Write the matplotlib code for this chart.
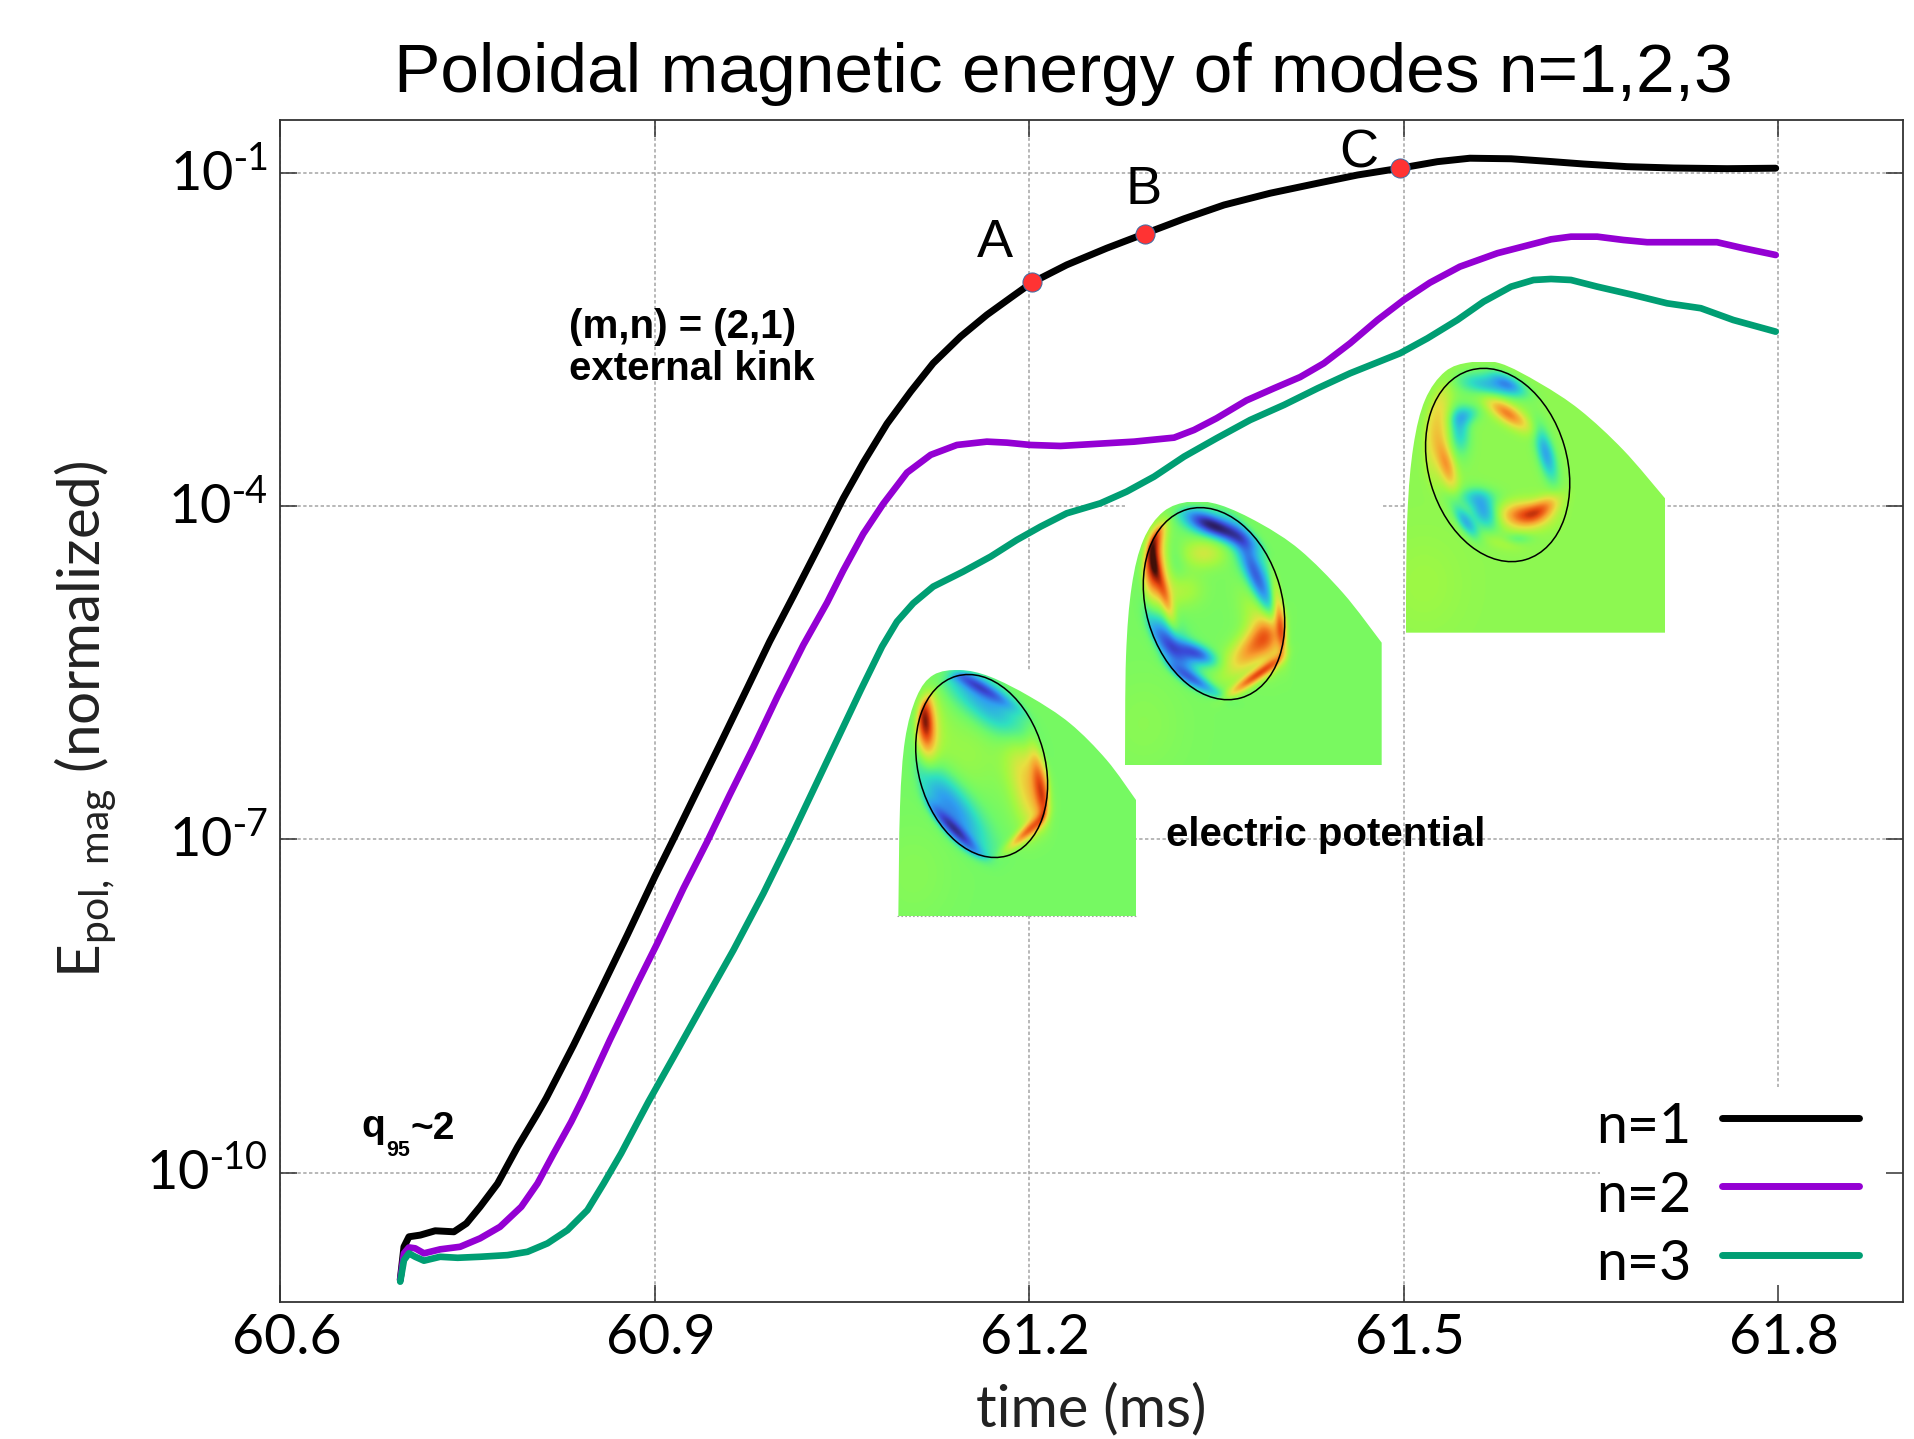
import numpy as np
import matplotlib
matplotlib.use("Agg")
import matplotlib.pyplot as plt
from matplotlib.colors import LinearSegmentedColormap
from matplotlib.lines import Line2D
from matplotlib.patches import Ellipse, PathPatch, Rectangle
from matplotlib.path import Path
from matplotlib.transforms import ScaledTranslation

plt.rcParams["font.family"] = ["Lato", "DejaVu Sans"]
plt.rcParams["mathtext.default"] = "regular"

W, H = 1915, 1439

# -------------------------------
# 1. Curves (time in ms, log10 of energy)
# -------------------------------
t1 = [60.696, 60.699, 60.703, 60.712, 60.724, 60.739, 60.749, 60.760, 60.774, 60.790, 60.806,
      60.813, 60.835, 60.856, 60.878, 60.900, 60.916, 60.931, 60.952, 60.974, 60.992, 61.011,
      61.032, 61.051, 61.067, 61.086, 61.105, 61.123, 61.145, 61.166, 61.187, 61.202, 61.230,
      61.262, 61.297, 61.324, 61.356, 61.393, 61.431, 61.463, 61.497, 61.527, 61.553, 61.586,
      61.618, 61.644, 61.679, 61.716, 61.759, 61.798]
log1 = [-10.967, -10.668, -10.578, -10.563, -10.524, -10.533, -10.458, -10.308, -10.099, -9.769, -9.468,
        -9.33, -8.85, -8.37, -7.86, -7.337, -6.975, -6.63, -6.15, -5.64, -5.22, -4.81,
        -4.35, -3.93, -3.61, -3.26, -2.97, -2.715, -2.475, -2.28, -2.11, -1.99, -1.83,
        -1.68, -1.53, -1.415, -1.291, -1.185, -1.095, -1.021, -0.96, -0.901, -0.87, -0.875,
        -0.9, -0.922, -0.946, -0.958, -0.964, -0.96]

t2 = [60.696, 60.699, 60.703, 60.708, 60.715, 60.728, 60.744, 60.760, 60.776, 60.793, 60.806, 60.819,
      60.833, 60.843, 60.864, 60.886, 60.902, 60.923, 60.942, 60.960, 60.979, 60.998, 61.019, 61.038,
      61.051, 61.067, 61.083, 61.102, 61.121, 61.142, 61.166, 61.182, 61.201, 61.225, 61.252, 61.284,
      61.316, 61.332, 61.350, 61.374, 61.396, 61.417, 61.436, 61.457, 61.479, 61.500, 61.521, 61.545,
      61.575, 61.618, 61.634, 61.655, 61.676, 61.695, 61.722, 61.751, 61.772, 61.798]
log2 = [-10.967, -10.727, -10.674, -10.682, -10.727, -10.691, -10.668, -10.592, -10.488, -10.308, -10.098, -9.827,
        -9.543, -9.317, -8.806, -8.296, -7.936, -7.44, -7.02, -6.60, -6.17, -5.72, -5.25, -4.87,
        -4.58, -4.25, -3.98, -3.70, -3.54, -3.451, -3.421, -3.43, -3.451, -3.46, -3.442, -3.421,
        -3.385, -3.316, -3.211, -3.05, -2.941, -2.84, -2.716, -2.536, -2.326, -2.146, -1.99, -1.846,
        -1.725, -1.6, -1.576, -1.576, -1.606, -1.626, -1.626, -1.626, -1.68, -1.741]

t3 = [60.696, 60.699, 60.703, 60.708, 60.715, 60.728, 60.742, 60.760, 60.782, 60.798, 60.814, 60.830,
      60.846, 60.859, 60.873, 60.886, 60.895, 60.915, 60.939, 60.963, 60.987, 61.008, 61.027, 61.046,
      61.065, 61.082, 61.094, 61.107, 61.123, 61.147, 61.169, 61.190, 61.209, 61.230, 61.257, 61.278,
      61.300, 61.324, 61.350, 61.377, 61.404, 61.431, 61.457, 61.497, 61.519, 61.543, 61.564, 61.586,
      61.604, 61.618, 61.634, 61.655, 61.684, 61.711, 61.738, 61.764, 61.798]
log3 = [-10.982, -10.788, -10.727, -10.758, -10.793, -10.758, -10.767, -10.758, -10.743, -10.713, -10.637, -10.518,
        -10.338, -10.098, -9.827, -9.55, -9.36, -8.96, -8.476, -7.997, -7.486, -7.006, -6.556, -6.106,
        -5.656, -5.266, -5.041, -4.876, -4.726, -4.591, -4.456, -4.306, -4.186, -4.066, -3.976, -3.871,
        -3.736, -3.556, -3.391, -3.226, -3.091, -2.941, -2.806, -2.626, -2.491, -2.326, -2.161, -2.026,
        -1.966, -1.957, -1.966, -2.026, -2.101, -2.176, -2.22, -2.326, -2.431]

mark_t = [61.202, 61.2925, 61.497]
mark_log = [-1.986, -1.556, -0.96]
mark_names = ["A", "B", "C"]

x_ticks = [60.6, 60.9, 61.2, 61.5, 61.8]
x_labels = ["60.6", "60.9", "61.2", "61.5", "61.8"]
y_ticks = [1e-1, 1e-4, 1e-7, 1e-10]
y_labels = [r"$10^{\text{-}1}$", r"$10^{\text{-}4}$", r"$10^{\text{-}7}$", r"$10^{\text{-}10}$"]

# -------------------------------
# 2. Mode structure insets (crop pixel coordinates, 3x)
# -------------------------------
# blobs: cx, cy, long sigma, short sigma, angle, amplitude
blobs_a = [(135, 240, 70, 20, 85, 0.8), (150, 250, 100, 35, 90, 0.15), (300, 140, 85, 14, 30, -0.4),
           (320, 185, 130, 42, 42, -0.42), (225, 570, 75, 14, 45, -0.5), (210, 500, 120, 42, 55, -0.5),
           (485, 450, 90, 16, 80, 0.5), (440, 575, 55, 12, -42, 0.55), (455, 450, 125, 40, 75, 0.42),
           (250, 340, 90, 90, 0, 0.1)]
blobs_b = [(125, 220, 70, 20, 88, 0.75), (165, 320, 70, 13, 75, 0.4), (140, 130, 40, 18, -75, 0.4),
           (150, 250, 120, 30, 85, 0.25), (335, 120, 70, 20, 25, -0.65), (280, 100, 50, 25, 20, -0.4),
           (440, 270, 80, 18, 68, -0.4), (430, 230, 130, 30, 65, -0.3), (180, 470, 75, 22, 50, -0.4),
           (170, 440, 90, 35, 65, -0.35), (260, 490, 40, 18, 25, -0.6), (250, 570, 70, 14, 30, -0.45),
           (430, 470, 75, 32, -45, 0.55), (440, 555, 70, 12, -35, 0.7), (510, 400, 90, 12, 82, 0.55),
           (470, 430, 100, 35, 70, 0.3), (280, 190, 45, 30, 0, 0.25), (220, 300, 40, 35, 0, 0.15),
           (190, 210, 50, 22, 80, -0.12)]
blobs_c = [(290, 105, 65, 24, 10, -0.4), (350, 100, 40, 17, 30, -0.35), (350, 190, 52, 19, 35, 0.55),
           (205, 240, 50, 22, 85, -0.36), (225, 195, 30, 20, -20, -0.28), (465, 310, 60, 18, 75, -0.48),
           (170, 350, 50, 17, 75, 0.42), (140, 230, 100, 30, 95, 0.33), (400, 495, 50, 27, 0, 0.62),
           (460, 470, 40, 20, -30, 0.4), (280, 485, 40, 26, 60, -0.48), (225, 515, 40, 15, 55, -0.42),
           (250, 440, 50, 20, 0, -0.2), (330, 575, 40, 15, 15, 0.1), (380, 565, 30, 12, 0, -0.15)]

outline_a_x = [55, 60, 75, 110, 160, 240, 330, 450, 570, 680, 768, 768]
outline_a_y = [828, 500, 300, 170, 105, 90, 110, 170, 250, 360, 480, 828]
outline_b_x = [45, 48, 65, 100, 160, 240, 330, 450, 570, 700, 815, 815]
outline_b_y = [825, 500, 290, 150, 65, 35, 45, 100, 180, 310, 458, 825]
outline_c_x = [47, 52, 70, 105, 165, 240, 330, 450, 570, 700, 825, 825]
outline_c_y = [848, 500, 290, 150, 65, 37, 40, 100, 180, 300, 445, 848]

mode_colors = [(0.0, "#2a1650"), (0.14, "#3a4ad8"), (0.27, "#2f9ff0"), (0.38, "#2fe0c0"), (0.48, "#70fa68"),
               (0.56, "#a4f840"), (0.66, "#e8e040"), (0.76, "#f8a030"), (0.88, "#e84810"), (0.95, "#a02008"),
               (1.0, "#401008")]
mode_cmap = LinearSegmentedColormap.from_list("mode", mode_colors)


def outline_path(xs, ys):
    # catmull-rom through the curve points, then straight down the right side and along the bottom
    pts = np.column_stack([xs[:-1], ys[:-1]]).astype(float)
    verts = [pts[0]]
    codes = [Path.MOVETO]
    for i in range(len(pts) - 1):
        before = pts[max(i - 1, 0)]
        after = pts[min(i + 2, len(pts) - 1)]
        verts += [pts[i] + (pts[i + 1] - before) / 6, pts[i + 1] - (after - pts[i]) / 6, pts[i + 1]]
        codes += [Path.CURVE4, Path.CURVE4, Path.CURVE4]
    verts += [(xs[-1], ys[-1]), pts[0], pts[0]]
    codes += [Path.LINETO, Path.LINETO, Path.CLOSEPOLY]
    return Path(verts, codes)


def draw_inset(origin, outline_x, outline_y, ellipse, blobs, base):
    # the crop coordinates are 3x the figure pixels
    x0, x1 = min(outline_x), max(outline_x)
    y0, y1 = min(outline_y), max(outline_y)
    left = (origin[0] + x0 / 3) / W
    bottom = 1 - (origin[1] + y1 / 3) / H
    ia = fig.add_axes([left, bottom, (x1 - x0) / 3 / W, (y1 - y0) / 3 / H], zorder=2)
    ia.axis("off")
    ia.add_patch(Rectangle((x0, y0), x1 - x0, y1 - y0, fc="white", ec="none", zorder=0))

    xx, yy = np.meshgrid(np.arange(x0, x1, 2.0), np.arange(y0, y1, 2.0))
    cx, cy, a, b, th = ellipse
    c, s = np.cos(np.radians(th)), np.sin(np.radians(th))
    # major axis leans to the upper left
    u = ((xx - cx) * s + (yy - cy) * c) / a
    v = ((xx - cx) * c - (yy - cy) * s) / b
    r = np.sqrt(u ** 2 + v ** 2)
    weight = np.minimum(1.0, np.exp(-(r - 1) / 0.07))
    field = np.zeros_like(xx)
    for bx, by, s1, s2, ang, amp in blobs:
        ca, sa = np.cos(np.radians(ang)), np.sin(np.radians(ang))
        p = (xx - bx) * ca + (yy - by) * sa
        q = -(xx - bx) * sa + (yy - by) * ca
        field += amp * np.exp(-0.5 * (p / s1) ** 2 - 0.5 * (q / s2) ** 2)
    field = base + field * weight + 0.05 * np.exp(-((xx - 100) / 120.0) ** 2 - ((yy - 700) / 150.0) ** 2)

    clip = PathPatch(outline_path(outline_x, outline_y), fc="none", ec="none", transform=ia.transData)
    ia.add_patch(clip)
    im = ia.imshow(field, extent=(x0, x1, y1, y0), cmap=mode_cmap, vmin=-1, vmax=1,
                   interpolation="bilinear", aspect="auto", zorder=1)
    im.set_clip_path(clip)
    ia.set_xlim(x0, x1)
    ia.set_ylim(y1, y0)
    ia.add_patch(Ellipse((cx, cy), 2 * b, 2 * a, angle=-th, fc="none", ec="black", lw=1.1, zorder=3))
    return ia


# -------------------------------
# 3. Main figure
# -------------------------------
fig = plt.figure(figsize=(W / 100, H / 100), dpi=100)
ax = fig.add_axes([280.4 / W, 1 - 1302 / H, (1903 - 280.4) / W, (1302 - 120) / H], zorder=1)

for v in x_ticks:
    ax.axvline(v, color="#a4a4a4", lw=1.1, ls=(0, (2.2, 1.6)), zorder=0.5)
for v in y_ticks:
    ax.axhline(v, color="#a4a4a4", lw=1.1, ls=(0, (2.2, 1.6)), zorder=0.5)

# white box behind the legend hides the grid but not the ticks
ax.add_patch(Rectangle((1600 / W, 1 - 1302 / H), (1903 - 1600) / W, (1302 - 1087) / H,
                       transform=fig.transFigure, fc="white", ec="none", zorder=1))

ax.semilogy(t1, 10 ** np.array(log1), color="black", lw=5, solid_capstyle="round", solid_joinstyle="round", zorder=3)
ax.semilogy(t2, 10 ** np.array(log2), color="#9400d3", lw=4.8, solid_capstyle="round", solid_joinstyle="round", zorder=3)
ax.semilogy(t3, 10 ** np.array(log3), color="#009e73", lw=4.8, solid_capstyle="round", solid_joinstyle="round", zorder=3)
ax.scatter(mark_t, 10 ** np.array(mark_log), s=190, c="#ff3333", edgecolors="#3a6ea5", linewidths=0.7, zorder=4)

ax.set_xlim(60.6, 61.9)
ax.set_ylim(10 ** -11.165, 10 ** -0.526)
ax.set_xticks(x_ticks)
ax.set_xticklabels(x_labels, fontsize=40)
ax.set_yticks(y_ticks)
ax.set_yticklabels(y_labels, fontsize=39)
ax.minorticks_off()
ax.tick_params(axis="both", which="major", direction="in", length=12.5, width=1.1, color="#333333",
               top=True, right=True)
ax.tick_params(axis="x", pad=8)
ax.tick_params(axis="y", pad=9)
for lab in ax.get_xticklabels():
    lab.set_transform(lab.get_transform() + ScaledTranslation(6 / 100, 0, fig.dpi_scale_trans))
for lab in ax.get_yticklabels():
    lab.set_transform(lab.get_transform() + ScaledTranslation(0, 3.5 / 100, fig.dpi_scale_trans))
for sp in ax.spines.values():
    sp.set_linewidth(1.3)
    sp.set_color("#333333")

fig.text(1091 / W, 1 - 1410 / H, "time (ms)", fontsize=41.5, ha="center", va="center", color="#222222")
fig.text(85 / W, 1 - 719 / H, r"$E_{pol,\,mag}$ (normalized)", fontsize=42, rotation=90,
         ha="center", va="center", color="#222222")
fig.text(1063 / W, 1 - 74 / H, "Poloidal magnetic energy of modes n=1,2,3", fontsize=50,
         family="Liberation Sans", ha="center", va="center")

for name, x, y in zip(mark_names, [995, 1144, 1359], [243, 190, 153]):
    fig.text(x / W, 1 - y / H, name, fontsize=39, family="Liberation Sans", ha="center", va="center", zorder=5)

fig.text(569 / W, 1 - 348 / H, "(m,n) = (2,1)\nexternal kink", fontsize=29, family="Liberation Sans",
         weight="bold", ha="left", va="center", linespacing=1.12, zorder=5)
fig.text(1166 / W, 1 - 835 / H, "electric potential", fontsize=29, family="Liberation Sans",
         weight="bold", ha="left", va="center", zorder=5)
fig.text(361 / W, 1 - 1127 / H, "q", fontsize=28, family="Liberation Sans",
         weight="bold", ha="left", va="center", zorder=5)
fig.text(386 / W, 1 - 1151 / H, "95", fontsize=15.5, family="Liberation Sans",
         weight="bold", ha="left", va="center", zorder=5)
fig.text(411 / W, 1 - 1129 / H, "~2", fontsize=28, family="Liberation Sans",
         weight="bold", ha="left", va="center", zorder=5)

draw_inset((880, 640), outline_a_x, outline_a_y, (305, 378, 280, 190, 15.6), blobs_a, -0.02)
draw_inset((1110, 490), outline_b_x, outline_b_y, (312, 341, 294, 204, 16.0), blobs_b, -0.01)
draw_inset((1390, 350), outline_c_x, outline_c_y, (323, 345, 296, 208, 16.4), blobs_c, 0.05)

# thin dotted edge under the first inset
fig.add_artist(Line2D([897 / W, 1136 / W], [1 - 916 / H, 1 - 916 / H], color="#a4a4a4", lw=0.8,
                      ls=(0, (1.5, 2)), zorder=3))

# legend
handles = [Line2D([], [], color="black", lw=5, solid_capstyle="round"),
           Line2D([], [], color="#9400d3", lw=5, solid_capstyle="round"),
           Line2D([], [], color="#009e73", lw=5, solid_capstyle="round")]
leg = ax.legend(handles, ["n=1", "n=2", "n=3"], fontsize=40, frameon=False, markerfirst=False,
                loc="lower right", bbox_to_anchor=(1859.5 / W, 1 - 1284 / H), bbox_transform=fig.transFigure,
                borderpad=0, borderaxespad=0, handlelength=2.48, handletextpad=0.54, labelspacing=0.312)
for txt in leg.get_texts():
    txt.set_position((0, -6))

fig.savefig("out.png", dpi=100)
